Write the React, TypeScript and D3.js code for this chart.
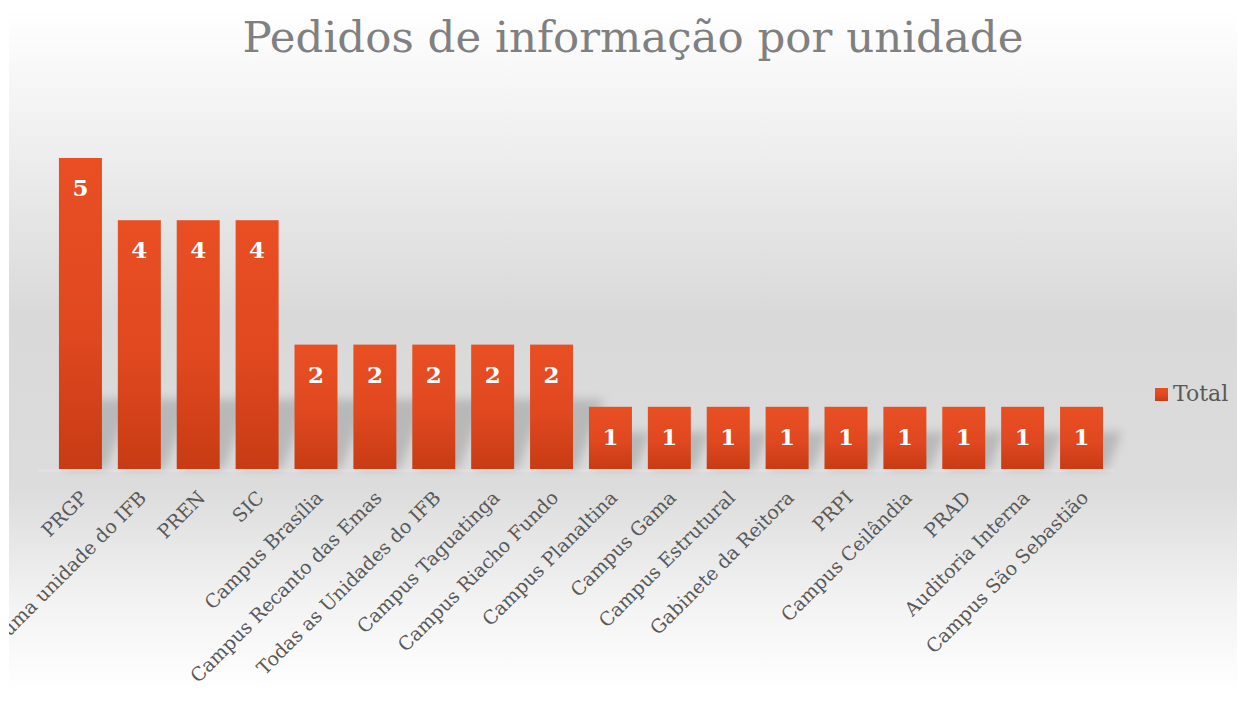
import React from "react";
import * as d3 from "d3";

const categories: string[] = [
  "PRGP",
  "Mais de uma unidade do IFB",
  "PREN",
  "SIC",
  "Campus Brasília",
  "Campus Recanto das Emas",
  "Todas as Unidades do IFB",
  "Campus Taguatinga",
  "Campus Riacho Fundo",
  "Campus Planaltina",
  "Campus Gama",
  "Campus Estrutural",
  "Gabinete da Reitora",
  "PRPI",
  "Campus Ceilândia",
  "PRAD",
  "Auditoria Interna",
  "Campus São Sebastião",
];
const totals: number[] = [5, 4, 4, 4, 2, 2, 2, 2, 2, 1, 1, 1, 1, 1, 1, 1, 1, 1];
const seriesName = "Total";
const title = "Pedidos de informação por unidade";

const W = 1246;
const H = 702;
const FONT = "'DejaVu Serif', serif";

export default function App() {
  const x = d3.scaleBand<string>().domain(categories).range([51, 1111]).paddingInner(0.27).paddingOuter(0.135);
  const y = d3.scaleLinear().domain([0, 5]).range([469, 158]);
  const bw = x.bandwidth();
  const base = y(0);

  return (
    <div style={{ position: "absolute", left: 0, top: 0 }}>
      <svg width={W} height={H} style={{ display: "block" }}>
        <defs>
          <linearGradient id="bg" x1="0" y1="0" x2="0" y2="1">
            <stop offset="0" stopColor="#ffffff" />
            <stop offset="0.1" stopColor="#f7f7f7" />
            <stop offset="0.45" stopColor="#d9d9d9" />
            <stop offset="0.7" stopColor="#dcdcdc" />
            <stop offset="0.87" stopColor="#f3f3f3" />
            <stop offset="1" stopColor="#ffffff" />
          </linearGradient>
          <linearGradient id="bar" x1="0" y1="0" x2="0" y2="1">
            <stop offset="0" stopColor="#e94f23" />
            <stop offset="0.55" stopColor="#e04820" />
            <stop offset="1" stopColor="#c83b14" />
          </linearGradient>
          <filter id="blur" x="-50%" y="-50%" width="200%" height="200%">
            <feGaussianBlur stdDeviation="5" />
          </filter>
          <clipPath id="area">
            <rect x={9} y={9} width={1228} height={684} />
          </clipPath>
        </defs>
        <rect x={9} y={9} width={1228} height={684} fill="url(#bg)" />
        <text x={633} y={52} textAnchor="middle" fontFamily={FONT} fontSize={43.5} fill="#808080">
          {title}
        </text>
        <g clipPath="url(#area)">
          <rect x={38} y={base} width={1077} height={3} fill="#e0e0e0" />
          <g filter="url(#blur)" opacity={0.3}>
            {categories.map((c, i) => {
              const h = base - y(totals[i]);
              const sh = Math.min(h * 0.6, 70);
              const x0 = x(c)!;
              const sk = sh * 0.35;
              const pts = [
                [x0 + 4, base],
                [x0 + bw + 4, base],
                [x0 + bw + sk + 6, base - sh],
                [x0 + sk + 6, base - sh],
              ];
              return <polygon key={c} points={pts.map((p) => p.join(",")).join(" ")} fill="#6a6a6a" />;
            })}
          </g>
          {categories.map((c, i) => (
            <rect key={c} x={x(c)} y={y(totals[i])} width={bw} height={base - y(totals[i])} fill="url(#bar)" />
          ))}
          {categories.map((c, i) => (
            <text
              key={"v" + c}
              x={x(c)! + bw / 2}
              y={y(totals[i]) + 38}
              textAnchor="middle"
              fontFamily={FONT}
              fontWeight="bold"
              fontSize={23}
              fill="#ffffff"
            >
              {totals[i]}
            </text>
          ))}
          {categories.map((c) => {
            const cx = x(c)! + bw / 2;
            return (
              <text
                key={"l" + c}
                transform={`translate(${cx + 8},${499}) rotate(-45)`}
                textAnchor="end"
                fontFamily={FONT}
                fontSize={19}
                fill="#595959"
              >
                {c}
              </text>
            );
          })}
        </g>
        <rect x={1155} y={388} width={13} height={13} fill="url(#bar)" />
        <text x={1173} y={401} fontFamily={FONT} fontSize={22} fill="#595959">
          {seriesName}
        </text>
      </svg>
    </div>
  );
}
